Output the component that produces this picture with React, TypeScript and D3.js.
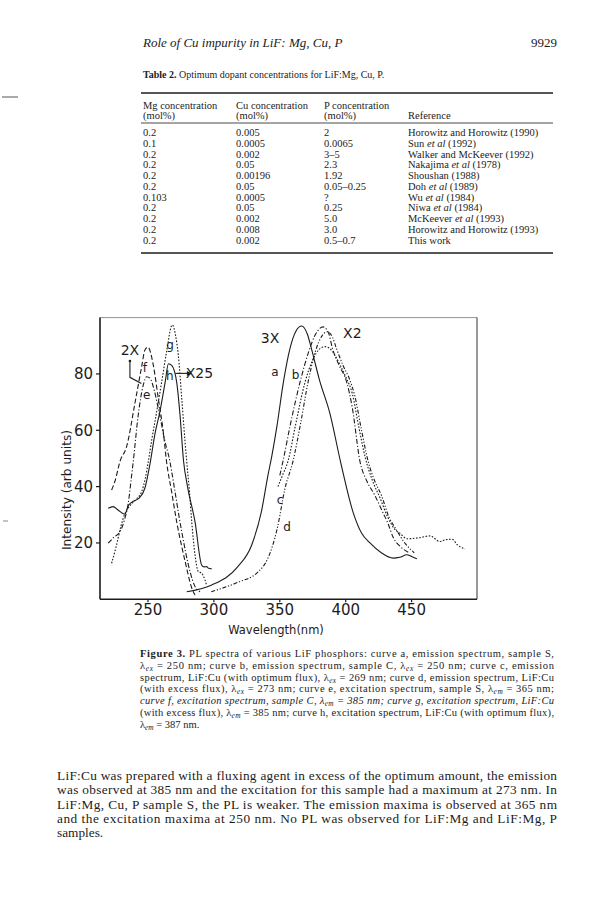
import * as d3 from 'd3';

// ---- page text ----
const HEADER_TITLE = 'Role of Cu impurity in LiF: Mg, Cu, P';
const PAGE_NUMBER = '9929';
const TABLE_TITLE = 'Optimum dopant concentrations for LiF:Mg, Cu, P.';

const TABLE_HEAD_1 = ['Mg concentration', 'Cu concentration', 'P concentration', ''];
const TABLE_HEAD_2 = ['(mol%)', '(mol%)', '(mol%)', 'Reference'];
const TABLE_MG = ['0.2', '0.1', '0.2', '0.2', '0.2', '0.2', '0.103', '0.2', '0.2', '0.2', '0.2'];
const TABLE_CU = ['0.005', '0.0005', '0.002', '0.05', '0.00196', '0.05', '0.0005', '0.05', '0.002', '0.008', '0.002'];
const TABLE_P = ['2', '0.0065', '3–5', '2.3', '1.92', '0.05–0.25', '?', '0.25', '5.0', '3.0', '0.5–0.7'];
const TABLE_REF = [
  'Horowitz and Horowitz (1990)', 'Sun et al (1992)', 'Walker and McKeever (1992)',
  'Nakajima et al (1978)', 'Shoushan (1988)', 'Doh et al (1989)', 'Wu et al (1984)',
  'Niwa et al (1984)', 'McKeever et al (1993)', 'Horowitz and Horowitz (1993)', 'This work',
];

const CAPTION_LINES = [
  'PL spectra of various LiF phosphors:  curve a, emission spectrum, sample S,',
  'λ_ex = 250 nm; curve b, emission spectrum, sample C, λ_ex = 250 nm; curve c, emission',
  'spectrum, LiF:Cu (with optimum flux), λ_ex = 269 nm; curve d, emission spectrum, LiF:Cu',
  '(with excess flux), λ_ex = 273 nm; curve e, excitation spectrum, sample S, λ_em = 365 nm;',
  'curve f, excitation spectrum, sample C, λ_em = 385 nm; curve g, excitation spectrum, LiF:Cu',
  '(with excess flux), λ_em = 385 nm; curve h, excitation spectrum, LiF:Cu (with optimum flux),',
  'λ_em = 387 nm.',
];

const PARAGRAPH_LINES = [
  'LiF:Cu was prepared with a fluxing agent in excess of the optimum amount, the emission',
  'was observed at 385 nm and the excitation for this sample had a maximum at 273 nm. In',
  'LiF:Mg, Cu, P sample S, the PL is weaker. The emission maxima is observed at 365 nm',
  'and the excitation maxima at 250 nm. No PL was observed for LiF:Mg and LiF:Mg, P',
  'samples.',
];

// ---- chart data: [wavelength nm, intensity arb units] ----
const CURVE_A: [number, number][] = [
  [279.4, 2.7], [298, 5], [318, 11.5], [328.7, 19.3], [336, 31], [341, 44], [344, 51], [348, 62],
  [352.7, 77], [357.7, 89], [362, 95], [366.6, 97], [371, 94], [374, 89], [380, 78], [388, 66],
  [396, 49], [405.8, 30.6], [412, 23.5], [418.4, 20], [427, 16.5], [436, 14.6], [441, 14.9],
  [446.3, 15.8], [450, 15.2], [454, 14.4],
];
const CURVE_B: [number, number][] = [
  [350, 44], [352.4, 49], [358, 62], [365.3, 77], [372, 88], [377, 94], [382.8, 96.7], [387, 94.5],
  [390, 89], [395, 83], [400.8, 77], [405, 68], [410.8, 49], [416, 42], [422, 37], [428, 31],
  [432, 27], [436, 22], [442, 18.5], [448.8, 16.4],
];
const CURVE_C: [number, number][] = [
  [348.6, 40], [352, 44], [356.2, 49], [362, 62], [369.1, 77], [375, 85], [380, 88.8], [384.3, 89.7],
  [388, 89], [392, 86.5], [396, 83], [400, 79], [405, 73], [410, 61], [415, 50], [420, 42.5],
  [426, 36], [432, 29], [437, 25], [441, 23.5], [446.5, 21.5], [455, 21.8], [464, 22.5],
  [471.5, 20.5], [476, 21.2], [480.6, 21.3], [485, 19.2], [490.5, 17.9],
];
const CURVE_D: [number, number][] = [
  [298, 2.7], [318, 6], [333.5, 9.7], [341, 14.6], [348, 25], [354, 39.5], [360, 49], [366, 63],
  [371.4, 77], [377, 88], [382, 93.5], [386, 95], [390, 93], [393, 89], [398, 83], [403, 78],
  [407, 72], [412, 60], [417, 49], [422, 42], [427, 37], [433, 29], [438, 25], [444, 20.5], [452, 16.5],
];
const CURVE_E: [number, number][] = [
  [219.8, 19.9], [224, 22], [228.8, 24], [232, 28], [235, 34], [237.6, 44], [238.8, 48.8],
  [242.6, 65.4], [246.4, 76], [249, 79], [251.5, 78.5], [254, 75.5], [257.8, 67.8], [262.9, 56],
  [266.7, 48.8], [268, 45.3], [275.6, 24], [281.9, 9.8], [285.7, 4.5], [289.5, 2.7],
];
const CURVE_F: [number, number][] = [
  [222.4, 38.8], [225, 42], [228.8, 49], [233.8, 54.2], [240.1, 69.6], [245.2, 82.6], [247.7, 88.5],
  [250, 89.5], [254, 83.2], [257.8, 71.4], [261.6, 59.5], [264.1, 48.8], [268, 38], [271.8, 27.5],
  [278.2, 13.4], [283.2, 4], [285.7, 1.5],
];
const CURVE_G: [number, number][] = [
  [222.4, 12.8], [226, 19], [229.5, 26], [232.6, 30.5], [236, 33], [241, 35.5], [245.2, 38.2],
  [248, 43], [250.2, 48.8], [253, 57], [256.6, 66.6], [260.4, 77.2], [264.1, 87.9], [268.4, 97.4],
  [271, 93.5], [273, 86.7], [275.6, 71.4], [278.1, 56], [279.4, 48.8], [281.5, 38], [283.2, 27.5],
  [285.7, 15.7], [288.2, 9.8], [290.7, 9.3], [293.2, 6.9], [294.5, 5],
];
const CURVE_H: [number, number][] = [
  [219.8, 32.3], [223.5, 32.9], [227.3, 31.7], [232.3, 30.2], [235.4, 33.5], [239, 34.8], [243, 35.8],
  [247.7, 39.5], [251.5, 48], [255.4, 59], [259, 66.5], [263, 77], [265.5, 83.6], [268, 83],
  [271.8, 77], [274.3, 65.4], [277, 49], [280, 40], [285.7, 27.5], [290.7, 12.2], [292.5, 11.5],
  [294.5, 11.6], [296, 11], [298.3, 10.8],
];

const X_TICKS = [250, 300, 350, 400, 450];
const Y_TICKS = [20, 40, 60, 80];

// curve letters and scale factors, anchored in data units
const ANNOTATIONS: { text: string; at: [number, number]; size: number }[] = [
  { text: '2X', at: [236.3, 86.7], size: 14 },
  { text: 'f', at: [247.7, 80.6], size: 12 },
  { text: 'e', at: [249, 71.1], size: 12 },
  { text: 'g', at: [266.7, 88.9], size: 12 },
  { text: 'h', at: [266.5, 77.8], size: 12 },
  { text: 'X25', at: [289, 78.6], size: 14 },
  { text: '3X', at: [342.6, 91], size: 14 },
  { text: 'a', at: [346.4, 79.3], size: 12 },
  { text: 'b', at: [362, 78.2], size: 12 },
  { text: 'c', at: [350.2, 33.8], size: 12 },
  { text: 'd', at: [355.5, 24.2], size: 12 },
  { text: 'X2', at: [405, 92.7], size: 14 },
];

const SERIES = [
  { data: CURVE_A, dash: undefined },
  { data: CURVE_B, dash: '5,2,1.2,2' },
  { data: CURVE_C, dash: '1.6,1.6' },
  { data: CURVE_D, dash: '4,1.8,1.2,1.8,1.2,1.8' },
  { data: CURVE_E, dash: '5,2,1.2,2' },
  { data: CURVE_F, dash: '5,2.5' },
  { data: CURVE_G, dash: '1.6,1.6' },
  { data: CURVE_H, dash: undefined },
];

const INK = '#1c1c1c';
const SANS = 'DejaVu Sans, Verdana, sans-serif';

function Lambda({ line, size }: { line: string; size: number }) {
  const parts = line.split(/(λ_(?:ex|em))/);
  return (
    <>
      {parts.map((p, i) => {
        if (p.startsWith('λ_')) {
          return (
            <tspan key={i}>
              λ<tspan baselineShift="-2" fontSize={size * 0.7} fontStyle="italic">{p.slice(2)}</tspan>
            </tspan>
          );
        }
        return <tspan key={i}>{p}</tspan>;
      })}
    </>
  );
}

function RefText({ s }: { s: string }) {
  const m = s.split(' et al ');
  if (m.length === 1) return <>{s}</>;
  return (
    <>
      {m[0]} <tspan fontStyle="italic">et al</tspan> {m[1]}
    </>
  );
}

export default function App() {
  const x = d3.scaleLinear().domain([213.6, 499.6]).range([100, 477]);
  const y = d3.scaleLinear().domain([0, 100]).range([599.3, 317.6]);
  const line = d3.line<[number, number]>()
    .x(d => x(d[0]))
    .y(d => y(d[1]))
    .curve(d3.curveMonotoneX);

  const colX = [143, 236, 324, 408];
  const rowY = (i: number) => 136 + i * 10.75;

  // 2X bracket arrow and h -> X25 arrow
  const arrow2x = d3.line<[number, number]>().x(d => x(d[0])).y(d => y(d[1]))(
    [[236.3, 84.6], [236.3, 78.8], [245, 76.6]]
  );
  const hx0 = x(270.8), hx1 = x(281), hy = y(80.2);
  const capFs = 10.5;

  return (
    <svg
      width={601}
      height={909}
      style={{ position: 'absolute', left: 0, top: 0, background: '#fff' }}
      fontFamily="Liberation Serif, Times New Roman, serif"
      fill={INK}
    >
      <rect width={601} height={909} fill="#fff" />
      {/* scan marks */}
      <line x1={2} x2={18} y1={97} y2={97} stroke="#555" strokeWidth={1} />
      <line x1={3} x2={8} y1={521} y2={521} stroke="#888" strokeWidth={1} />

      {/* running header */}
      <text x={143} y={47} fontSize={13} fontStyle="italic">{HEADER_TITLE}</text>
      <text x={557} y={47} fontSize={13} textAnchor="end">{PAGE_NUMBER}</text>

      {/* table */}
      <text x={143} y={78} fontSize={10}>
        <tspan fontWeight="bold">Table 2.</tspan> {TABLE_TITLE}
      </text>
      <line x1={141} x2={553} y1={93} y2={93} stroke={INK} strokeWidth={1.3} />
      <line x1={141} x2={553} y1={123} y2={123} stroke={INK} strokeWidth={0.8} />
      <line x1={141} x2={553} y1={253} y2={253} stroke={INK} strokeWidth={1.3} />
      {TABLE_HEAD_1.map((h, j) => (
        <text key={'h1' + j} x={colX[j]} y={108.5} fontSize={10.5}>{h}</text>
      ))}
      {TABLE_HEAD_2.map((h, j) => (
        <text key={'h2' + j} x={colX[j]} y={119} fontSize={10.5}>{h}</text>
      ))}
      {TABLE_MG.map((v, i) => (
        <g key={'r' + i} fontSize={10.5}>
          <text x={colX[0]} y={rowY(i)}>{v}</text>
          <text x={colX[1]} y={rowY(i)}>{TABLE_CU[i]}</text>
          <text x={colX[2]} y={rowY(i)}>{TABLE_P[i]}</text>
          <text x={colX[3]} y={rowY(i)}><RefText s={TABLE_REF[i]} /></text>
        </g>
      ))}

      {/* figure */}
      <g fontFamily={SANS}>
        <line x1={100} x2={477} y1={y(100)} y2={y(100)} stroke="#777" strokeWidth={0.8} />
        <line x1={477} x2={477} y1={y(100)} y2={y(0)} stroke="#444" strokeWidth={1.1} />
        <line x1={100} x2={100} y1={y(100)} y2={y(0)} stroke={INK} strokeWidth={1.6} />
        <line x1={100} x2={477} y1={y(0)} y2={y(0)} stroke={INK} strokeWidth={1.6} />
        {Y_TICKS.map(t => (
          <g key={'y' + t}>
            <line x1={96} x2={100} y1={y(t)} y2={y(t)} stroke={INK} strokeWidth={1.2} />
            <text x={93} y={y(t)} dy="0.36em" fontSize={15} textAnchor="end">{t}</text>
          </g>
        ))}
        {X_TICKS.map(t => (
          <g key={'x' + t}>
            <line x1={x(t)} x2={x(t)} y1={y(0)} y2={y(0) + 3} stroke={INK} strokeWidth={1.2} />
            <text x={x(t)} y={615} fontSize={15} textAnchor="middle">{t}</text>
          </g>
        ))}
        <text
          transform="translate(71,490) rotate(-90)"
          fontSize={13}
          textAnchor="middle"
          textLength={120}
          lengthAdjust="spacingAndGlyphs"
        >
          Intensity (arb units)
        </text>
        <text x={276} y={634} fontSize={11.5} textAnchor="middle">Wavelength(nm)</text>

        {SERIES.map((s, i) => (
          <path
            key={'s' + i}
            d={line(s.data) ?? ''}
            fill="none"
            stroke={INK}
            strokeWidth={1.1}
            strokeDasharray={s.dash}
            strokeLinejoin="round"
          />
        ))}

        {ANNOTATIONS.map((a, i) => (
          <text key={'a' + i} x={x(a.at[0])} y={y(a.at[1])} fontSize={a.size} textAnchor="middle">
            {a.text}
          </text>
        ))}
        <circle cx={x(236.3)} cy={y(84.6)} r={1.3} fill={INK} />
        <path d={arrow2x ?? ''} fill="none" stroke={INK} strokeWidth={1.1} />
        <line x1={hx0} x2={hx1} y1={hy} y2={hy} stroke={INK} strokeWidth={1.1} />
        <path d={`M${hx1 + 3},${hy} L${hx1 - 2},${hy - 2.5} L${hx1 - 2},${hy + 2.5} Z`} fill={INK} />
      </g>

      {/* caption */}
      <g fontSize={capFs}>
        {CAPTION_LINES.map((l, i) => {
          const yy = 657 + i * 11.8;
          const last = i === CAPTION_LINES.length - 1;
          if (i === 0) {
            return (
              <text key={'c' + i} x={140} y={yy} textLength={414} lengthAdjust="spacing">
                <tspan fontWeight="bold">Figure 3.</tspan>{'  '}{l}
              </text>
            );
          }
          return (
            <text
              key={'c' + i}
              x={140}
              y={yy}
              fontStyle={i === 4 ? 'italic' : undefined}
              textLength={last ? undefined : 414}
              lengthAdjust="spacing"
            >
              <Lambda line={l} size={capFs} />
            </text>
          );
        })}
      </g>

      {/* body paragraph */}
      <g fontSize={13.3}>
        {PARAGRAPH_LINES.map((l, i) => (
          <text
            key={'p' + i}
            x={57}
            y={780 + i * 14.25}
            textLength={i < PARAGRAPH_LINES.length - 1 ? 500 : undefined}
            lengthAdjust="spacing"
          >
            {l}
          </text>
        ))}
      </g>
    </svg>
  );
}
